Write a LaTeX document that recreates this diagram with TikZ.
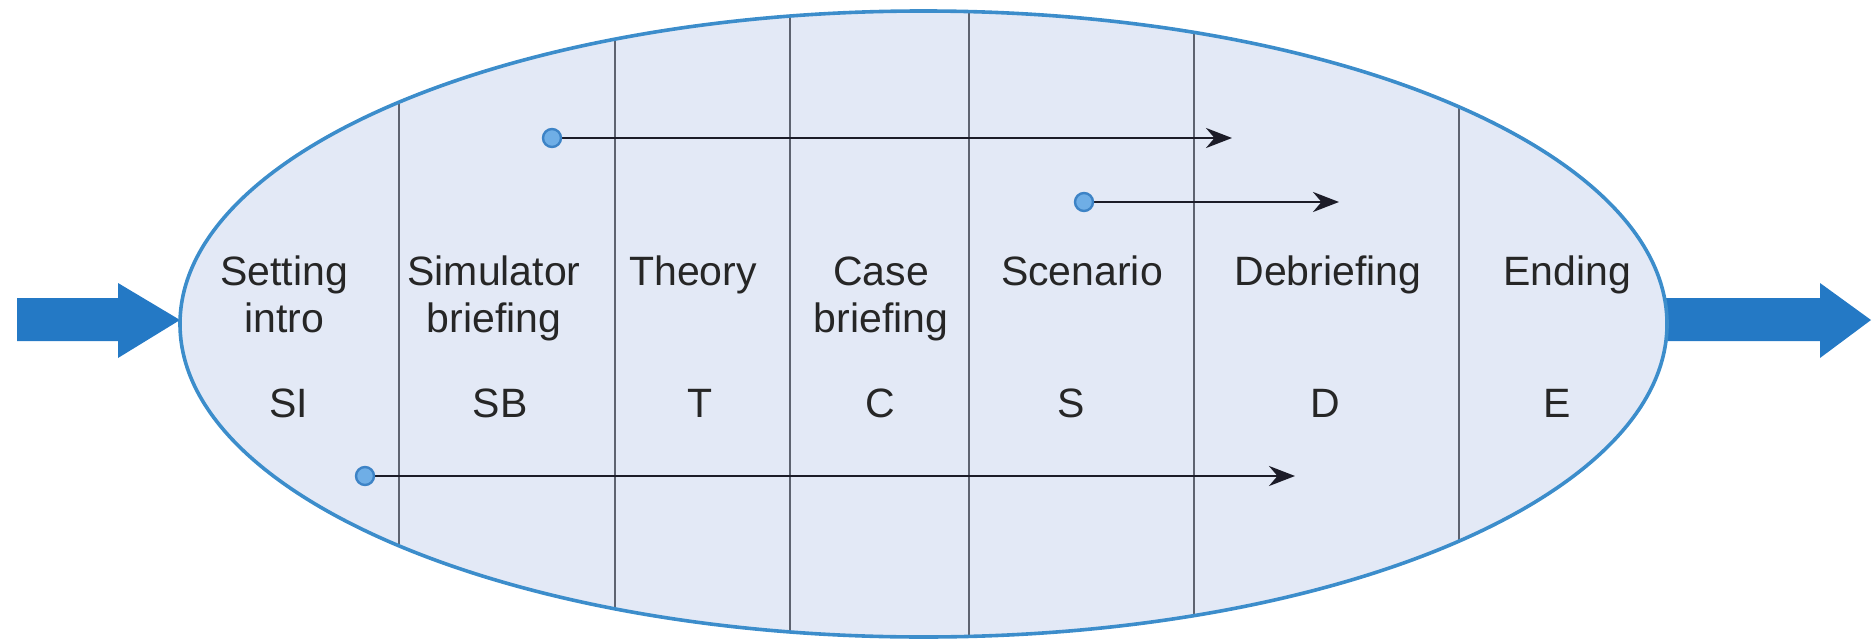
\documentclass[tikz,border=0pt]{standalone}
\usepackage{fontspec}
\setmainfont{Liberation Sans}
\usetikzlibrary{arrows.meta}
\definecolor{ellfill}{HTML}{E3E9F6}
\definecolor{ellline}{HTML}{3C8DCB}
\definecolor{divline}{HTML}{5E6370}
\definecolor{bigarrow}{HTML}{2479C5}
\definecolor{dotfill}{HTML}{6FAEE6}
\definecolor{dotline}{HTML}{3D83C6}
\definecolor{flowline}{HTML}{1C1C28}
\definecolor{txt}{HTML}{262626}
\tikzset{
  lbl/.style={anchor=base, align=center, inner sep=0pt, text=txt,
    font=\fontsize{20.5pt}{23.5pt}\selectfont},
  startdot/.style={circle, fill=dotfill, draw=dotline, line width=1.2pt,
    minimum size=9pt, inner sep=0pt},
  flow/.style={draw=flowline, line width=1.4pt, -{Stealth[length=13pt,width=10pt]}},
  divider/.style={draw=divline, line width=1.2pt},
  bigarr/.style={fill=bigarrow}
}
\begin{document}
\begin{tikzpicture}[x=0.5pt,y=-0.5pt]
\useasboundingbox (0,0) rectangle (1872,642);
% big arrows
\fill[bigarr] (17,298) -- (118,298) -- (118,283) -- (180,320) -- (118,358) -- (118,341) -- (17,341) -- cycle;
\fill[bigarr] (1640,298) -- (1820,298) -- (1820,283) -- (1871,320) -- (1820,358) -- (1820,341) -- (1640,341) -- cycle;
% ellipse
\fill[ellfill] (923.5,324) ellipse [x radius=743.5, y radius=313];
\begin{scope}
  \clip (923.5,324) ellipse [x radius=743.5, y radius=313];
  \foreach \xx in {399,615,790,969,1194,1459} {
    \draw[divider] (\xx,0) -- (\xx,642);
  }
\end{scope}
\draw[draw=ellline, line width=1.8pt] (923.5,324) ellipse [x radius=743.5, y radius=313];
% labels (base = baseline of last line)
\node[lbl] (si) at (284,332) {Setting\\intro};
\node[lbl] (sb) at (494,332) {Simulator\\briefing};
\node[lbl] (th) at (693,285) {Theory};
\node[lbl] (cb) at (881,332) {Case\\briefing};
\node[lbl] (sc) at (1082,285) {Scenario};
\node[lbl] (db) at (1328,285) {Debriefing};
\node[lbl] (en) at (1567,285) {Ending};
\node[lbl] (aSI) at (289,417) {SI};
\node[lbl] (aSB) at (500,417) {SB};
\node[lbl] (aT) at (700,417) {T};
\node[lbl] (aC) at (880,417) {C};
\node[lbl] (aS) at (1071,417) {S};
\node[lbl] (aD) at (1325,417) {D};
\node[lbl] (aE) at (1557,417) {E};
% flow arrows
\coordinate (t1) at (1232,138);
\coordinate (t2) at (1339,202);
\coordinate (t3) at (1295,476);
\draw[flow] (552,138) -- (t1);
\draw[flow] (1084,202) -- (t2);
\draw[flow] (365,476) -- (t3);
\node[startdot] (d1) at (552,138) {};
\node[startdot] (d2) at (1084,202) {};
\node[startdot] (d3) at (365,476) {};
\end{tikzpicture}
\end{document}
